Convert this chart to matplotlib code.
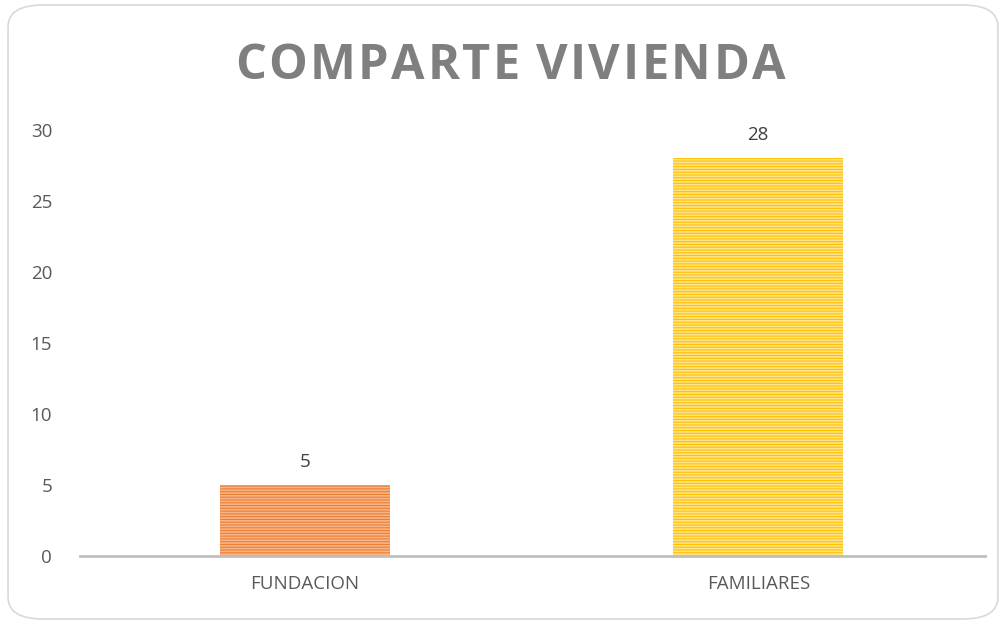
import matplotlib.pyplot as plt
from matplotlib.patches import FancyBboxPatch

categories = ['FUNDACION', 'FAMILIARES']
values = [5, 28]
colors = ['#ED7D31', '#FFC000']
stripe_colors = ['#F6B487', '#FFE38A']
y_ticks = [0, 5, 10, 15, 20, 25, 30]
title = 'COMPARTE VIVIENDA'

plt.rcParams['font.family'] = ['Open Sans', 'DejaVu Sans']
plt.rcParams['hatch.linewidth'] = 1.2

fig = plt.figure(figsize=(10.06, 6.24), dpi=100)
fig.patches.append(FancyBboxPatch((0.008, 0.008), 0.984, 0.984,
                                  boxstyle='round,pad=0,rounding_size=0.035',
                                  transform=fig.transFigure, facecolor='white',
                                  edgecolor='#D9D9D9', linewidth=1.2, zorder=-5))

ax = fig.add_axes([0.0795, 0.109, 0.8996, 0.6827])
ax.set_facecolor('none')
x = range(len(categories))
for i, (v, c, sc) in enumerate(zip(values, colors, stripe_colors)):
    ax.bar(i, v, width=0.375, color=c, edgecolor=sc, linewidth=0, hatch='------')
    ax.text(i, v + 1.0, str(v), ha='center', va='bottom', fontsize=13.5, color='#404040')

ax.set_xlim(-0.496, 1.5)
ax.set_ylim(0, 30)
ax.set_yticks(y_ticks)
ax.set_xticks(list(x))
ax.set_xticklabels(categories)
ax.tick_params(axis='both', length=0, labelsize=13.5, colors='#595959')
ax.tick_params(axis='x', pad=14)
ax.tick_params(axis='y', pad=20)
for s in ['top', 'right', 'left']:
    ax.spines[s].set_visible(False)
ax.spines['bottom'].set_color('#BFBFBF')
ax.spines['bottom'].set_linewidth(2)

# title with letter spacing
renderer = fig.canvas.get_renderer()
spacing = 2.5  # px between letters
chars = []
widths = []
for ch in title:
    t = fig.text(0, 0, ch, fontsize=35, fontweight='bold', color='#7F7F7F',
                 ha='left', va='center')
    chars.append(t)
    w = t.get_window_extent(renderer).width if ch != ' ' else 11
    widths.append(w)
total = sum(widths) + spacing * (len(title) - 1)
W = fig.get_figwidth() * fig.dpi
xpos = 510 - total / 2
for t, w in zip(chars, widths):
    t.set_position((xpos / W, 0.893))
    xpos += w + spacing

fig.savefig('out.png', dpi=100)
